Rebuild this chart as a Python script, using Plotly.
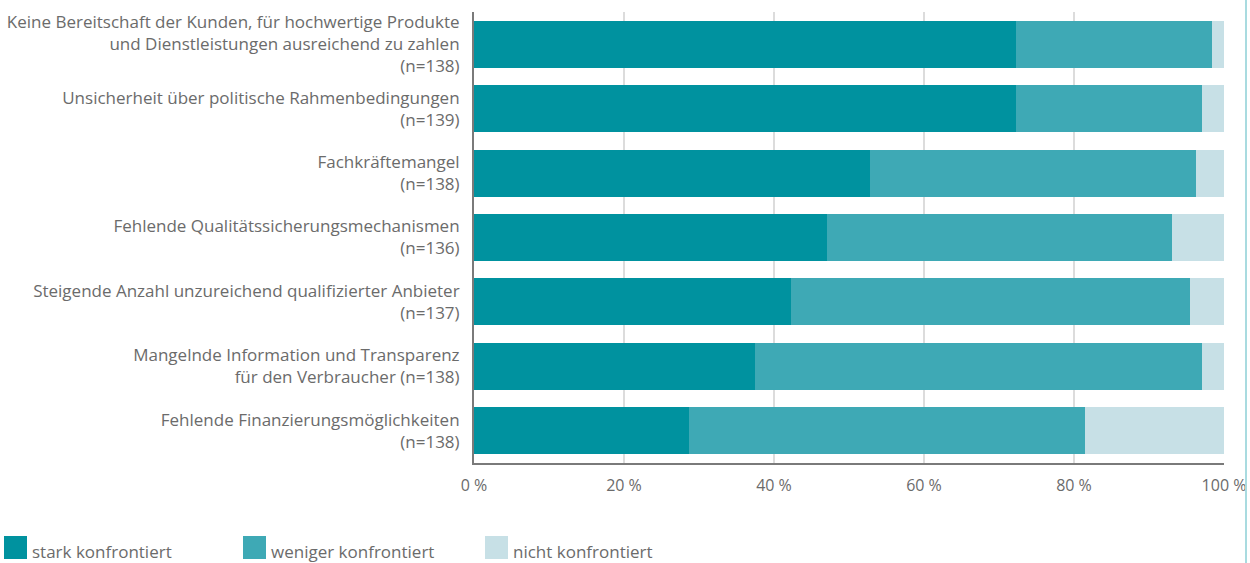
import plotly.graph_objects as go

categories = [
    "Keine Bereitschaft der Kunden, für hochwertige Produkte<br>und Dienstleistungen ausreichend zu zahlen<br>(n=138)",
    "Unsicherheit über politische Rahmenbedingungen<br>(n=139)",
    "Fachkräftemangel<br>(n=138)",
    "Fehlende Qualitätssicherungsmechanismen<br>(n=136)",
    "Steigende Anzahl unzureichend qualifizierter Anbieter<br>(n=137)",
    "Mangelnde Information und Transparenz<br>für den Verbraucher (n=138)",
    "Fehlende Finanzierungsmöglichkeiten<br>(n=138)",
]
stark = [72.3, 72.3, 52.8, 47.1, 42.3, 37.4, 28.6]
weniger = [26.1, 24.8, 43.5, 45.9, 53.1, 59.7, 52.9]
nicht = [1.6, 2.9, 3.7, 7.0, 4.6, 2.9, 18.5]

series_names = ["stark konfrontiert", "weniger konfrontiert", "nicht konfrontiert"]
series_values = [stark, weniger, nicht]
colors = ["#00929f", "#3ea9b5", "#c7e0e6"]

tick_vals = [0, 20, 40, 60, 80, 100]
tick_text = ["0 %", "20 %", "40 %", "60 %", "80 %", "100 %"]

FONT = "Open Sans"
GREY = "#6b6b6b"

fig = go.Figure()
for name, vals, col in zip(series_names, series_values, colors):
    fig.add_trace(go.Bar(
        y=categories, x=vals, name=name, orientation="h",
        marker=dict(color=col, line=dict(width=0)),
        showlegend=False,
    ))

W, H = 1250, 563
L, R, T, B = 474, 26, 12, 100
pw, ph = W - L - R, H - T - B


def px_x(px):
    return (px - L) / pw


def px_y(py):
    return (H - B - py) / ph


# legend drawn below the chart
shapes = []
annotations = []
legend_x = [4, 243, 485]
for lx, name, col in zip(legend_x, series_names, colors):
    shapes.append(dict(type="rect", xref="paper", yref="paper",
                       x0=px_x(lx), x1=px_x(lx + 23), y0=px_y(559), y1=px_y(536),
                       fillcolor=col, line=dict(width=0)))
    annotations.append(dict(xref="paper", yref="paper", x=px_x(lx + 26), y=px_y(551),
                            text=name, showarrow=False, xanchor="left", yanchor="middle",
                            font=dict(family=FONT, size=17, color=GREY)))

# thin accent line at the right edge
shapes.append(dict(type="line", xref="paper", yref="paper",
                   x0=px_x(1246), x1=px_x(1246), y0=px_y(563), y1=px_y(0),
                   line=dict(color="#a9dbe0", width=2)))

fig.update_layout(
    barmode="stack",
    bargap=0.27,
    width=W, height=H,
    margin=dict(l=L, r=R, t=T, b=B, pad=0, autoexpand=False),
    paper_bgcolor="white", plot_bgcolor="white",
    font=dict(family=FONT, size=16, color=GREY),
    xaxis=dict(range=[0, 100], tickvals=tick_vals, ticktext=tick_text,
               showgrid=True, gridcolor="#dcdcdc", gridwidth=1.5,
               showline=True, linecolor="#7a7a7a", linewidth=2,
               zeroline=False, ticks="", ticklabelstandoff=7, automargin=False,
               tickfont=dict(family=FONT, size=16, color=GREY), fixedrange=True),
    yaxis=dict(autorange="reversed", showline=True, linecolor="#7a7a7a", linewidth=2,
               ticks="", ticklabelstandoff=9, showgrid=False, automargin=False,
               tickfont=dict(family=FONT, size=17, color=GREY)),
    shapes=shapes,
    annotations=annotations,
    showlegend=False,
)

fig.write_html("out.html")
